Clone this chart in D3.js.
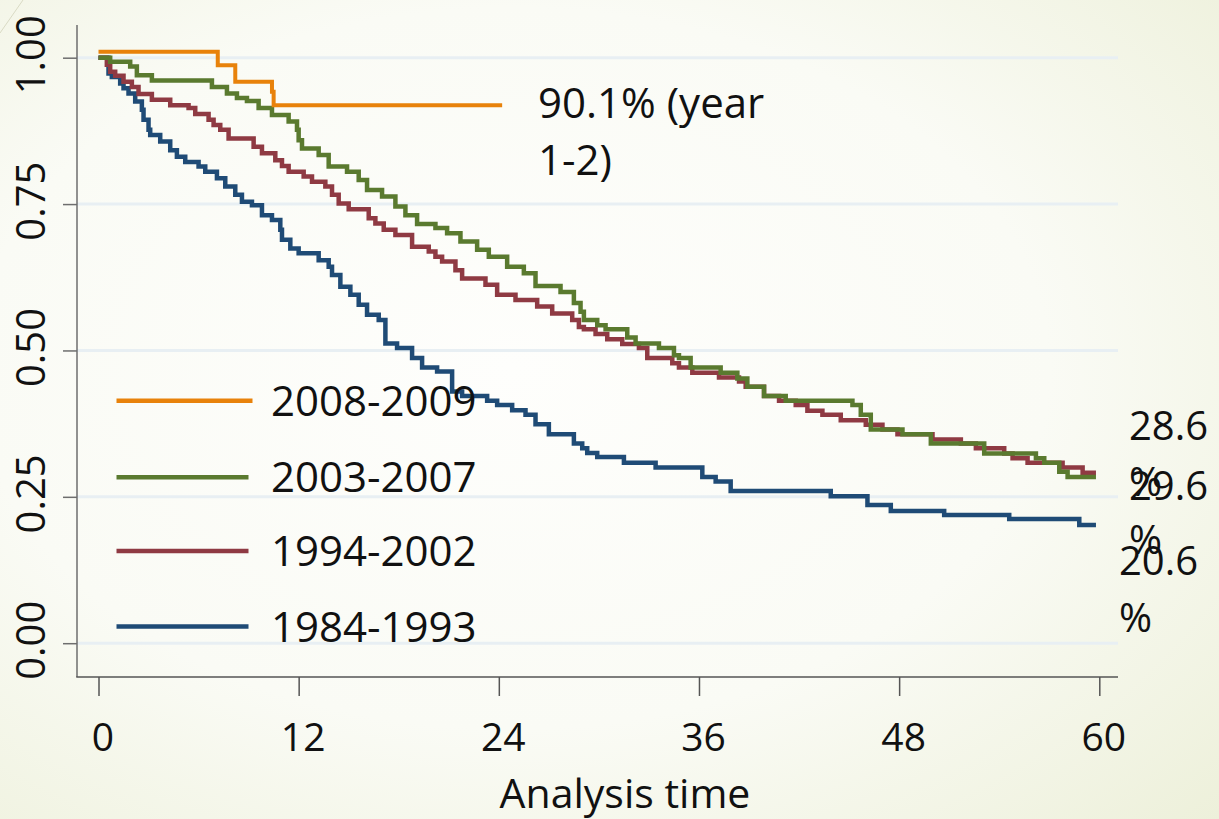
<!DOCTYPE html>
<html><head><meta charset="utf-8">
<script src="https://cdn.jsdelivr.net/npm/d3@7"></script>
<style>html,body{margin:0;padding:0;overflow:hidden;}svg{display:block;}</style>
</head><body>
<svg id="chart" width="1219" height="819"></svg>
<script>
// ---- data ----
const seriesNames = ["2008-2009", "2003-2007", "1994-2002", "1984-1993"];
const seriesColors = ["#e8820b", "#5a7a2f", "#8f3a43", "#1f4b76"];
const xTicks = [0, 12, 24, 36, 48, 60];
const yTicks = [0, 0.25, 0.5, 0.75, 1];
const yTickLabels = ["0.00", "0.25", "0.50", "0.75", "1.00"];
const steps2008 = [[0,1.01],[7.15,0.987],[8.2,0.959],[10.4,0.942],[10.5,0.919],[24.2,0.919]];
const steps2003 = [[0,1.0],[0.7,0.993],[1.9,0.985],[2.3,0.970],[3.2,0.961],[6.8,0.950],[7.7,0.939],[8.3,0.931],[8.9,0.926],[9.6,0.914],[10.4,0.902],[11.4,0.891],[11.9,0.877],[12.0,0.859],[12.2,0.845],[13.2,0.834],[13.8,0.814],[14.9,0.805],[15.6,0.791],[16.1,0.774],[17.0,0.763],[17.8,0.746],[18.4,0.731],[19.1,0.716],[20.2,0.709],[20.9,0.700],[21.7,0.686],[22.7,0.672],[23.4,0.660],[24.5,0.643],[25.5,0.632],[26.2,0.610],[27.7,0.600],[28.5,0.581],[28.9,0.566],[29.1,0.552],[29.9,0.543],[30.4,0.536],[31.7,0.522],[32.2,0.512],[33.6,0.504],[34.5,0.492],[34.8,0.487],[35.5,0.471],[37.3,0.462],[38.3,0.452],[38.9,0.438],[39.9,0.422],[41.2,0.414],[45.2,0.407],[45.7,0.390],[46.3,0.365],[48.2,0.357],[49.9,0.341],[53.1,0.324],[56.2,0.316],[56.7,0.308],[57.6,0.293],[58.1,0.284],[59.8,0.284]];
const steps1994 = [[0,1.0],[0.5,0.988],[0.7,0.976],[1.0,0.969],[1.5,0.959],[2.0,0.950],[2.4,0.938],[3.2,0.928],[4.3,0.919],[5.4,0.914],[5.8,0.904],[6.6,0.894],[6.9,0.885],[7.3,0.877],[7.8,0.862],[9.3,0.848],[9.8,0.837],[10.6,0.825],[11.0,0.815],[11.4,0.805],[12.3,0.797],[12.8,0.788],[13.6,0.780],[14.0,0.766],[14.4,0.751],[15.0,0.741],[16.2,0.726],[16.6,0.717],[17.1,0.706],[17.8,0.697],[18.8,0.677],[19.8,0.669],[20.2,0.660],[20.6,0.652],[21.4,0.637],[21.8,0.623],[23.2,0.612],[23.9,0.595],[25.0,0.586],[26.3,0.575],[27.2,0.563],[28.4,0.552],[28.8,0.540],[29.1,0.536],[29.8,0.528],[30.5,0.519],[31.4,0.511],[32.4,0.504],[32.9,0.487],[34.4,0.478],[34.8,0.471],[35.6,0.462],[37.2,0.454],[38.4,0.447],[38.8,0.438],[39.9,0.422],[40.8,0.414],[41.8,0.407],[42.5,0.397],[43.4,0.390],[44.5,0.381],[46.0,0.373],[47.0,0.365],[47.9,0.357],[50.0,0.348],[51.7,0.341],[52.6,0.333],[54.3,0.324],[54.8,0.316],[55.7,0.308],[57.8,0.300],[59.0,0.291],[59.8,0.291]];
const steps1984 = [[0,1.0],[0.6,0.973],[0.8,0.967],[1.3,0.956],[1.5,0.948],[1.8,0.939],[2.2,0.925],[2.6,0.911],[2.7,0.894],[3.0,0.877],[3.1,0.868],[3.7,0.857],[4.3,0.842],[4.7,0.831],[5.2,0.822],[6.0,0.814],[6.4,0.805],[7.1,0.794],[7.6,0.780],[8.2,0.766],[8.6,0.754],[9.2,0.748],[9.8,0.731],[10.4,0.723],[10.9,0.706],[11.0,0.689],[11.5,0.674],[12.0,0.666],[13.2,0.654],[13.8,0.643],[14.0,0.629],[14.5,0.609],[15.1,0.595],[15.6,0.578],[16.1,0.561],[16.8,0.552],[17.2,0.512],[17.9,0.504],[18.8,0.487],[19.4,0.471],[20.3,0.464],[21.2,0.430],[21.8,0.422],[23.3,0.414],[23.9,0.407],[24.8,0.398],[25.6,0.390],[26.2,0.374],[27.0,0.357],[28.5,0.341],[29.0,0.333],[29.3,0.325],[29.9,0.318],[31.5,0.308],[33.4,0.300],[36.2,0.284],[37.0,0.276],[37.9,0.260],[43.9,0.251],[46.1,0.236],[47.5,0.226],[50.7,0.219],[54.6,0.212],[58.8,0.202],[59.8,0.202]];
const allSteps = [steps2008, steps2003, steps1994, steps1984];
const annotationLines = ["90.1% (year", "1-2)"];
const endLabels = ["28.6", "29.6", "20.6"];
const xTitle = "Analysis time";

// ---- drawing ----
const FONT = "'Open Sans', 'Noto Sans', sans-serif";
const svg = d3.select("#chart");
const defs = svg.append("defs");
const grad = defs.append("radialGradient").attr("id", "bg")
  .attr("cx", "42%").attr("cy", "45%").attr("r", "80%");
grad.append("stop").attr("offset", "0%").attr("stop-color", "#fefefc");
grad.append("stop").attr("offset", "55%").attr("stop-color", "#fafbf5");
grad.append("stop").attr("offset", "100%").attr("stop-color", "#edf0da");
svg.append("rect").attr("width", 1219).attr("height", 819).attr("fill", "url(#bg)");
svg.append("line").attr("x1", 0).attr("y1", 33).attr("x2", 23).attr("y2", 0)
  .attr("stroke", "#d9dac4").attr("stroke-width", 1);

const x = d3.scaleLinear().domain([0, 60]).range([98.5, 1099.3]);
const y = d3.scaleLinear().domain([0, 1]).range([643.2, 57.7]);
const plotLeft = 77, plotRight = 1118, axisY = 677, axisTop = 25;

// gridlines
svg.append("g").selectAll("line").data(yTicks).join("line")
  .attr("x1", plotLeft).attr("x2", plotRight)
  .attr("y1", d => y(d)).attr("y2", d => y(d))
  .attr("stroke", "#e8eff3").attr("stroke-width", 3);

// y axis
const yAxis = d3.axisLeft(y).tickValues(yTicks).tickSize(14).tickFormat((d, i) => yTickLabels[i]);
const gy = svg.append("g").attr("transform", `translate(${plotLeft},0)`).call(yAxis);
gy.select(".domain").remove();
gy.selectAll(".tick line").attr("stroke", "#6e6e6e").attr("stroke-width", 1.5);
gy.selectAll(".tick text").remove();
svg.append("line").attr("x1", plotLeft).attr("x2", plotLeft).attr("y1", axisTop).attr("y2", axisY)
  .attr("stroke", "#6e6e6e").attr("stroke-width", 1.5);
svg.append("g").selectAll("text").data(yTicks).join("text")
  .attr("transform", d => `translate(45,${y(d) - 3}) rotate(-90)`)
  .attr("text-anchor", "middle")
  .attr("font-family", FONT).attr("font-size", 40).attr("fill", "#111")
  .text((d, i) => yTickLabels[i]);

// x axis
const xAxis = d3.axisBottom(x).tickValues(xTicks).tickSize(19).tickFormat(d3.format("d"));
const gx = svg.append("g").attr("transform", `translate(0,${axisY})`).call(xAxis);
gx.select(".domain").remove();
gx.selectAll(".tick line").attr("stroke", "#555").attr("stroke-width", 1.5);
gx.selectAll(".tick text").attr("font-family", FONT).attr("font-size", 39).attr("fill", "#111")
  .attr("y", 0).attr("dy", 0).attr("transform", "translate(4,74)");
svg.append("line").attr("x1", plotLeft - 0.75).attr("x2", plotRight).attr("y1", axisY).attr("y2", axisY)
  .attr("stroke", "#555").attr("stroke-width", 1.5);
svg.append("text").attr("x", 625).attr("y", 808).attr("text-anchor", "middle")
  .attr("font-family", FONT).attr("font-size", 41).attr("fill", "#111").text(xTitle);

// curves
const line = d3.line().x(d => x(d[0])).y(d => y(d[1])).curve(d3.curveStepAfter);
const drawOrder = [3, 2, 1, 0];
svg.append("g").selectAll("path").data(drawOrder).join("path")
  .attr("d", i => line(allSteps[i]))
  .attr("fill", "none").attr("stroke", i => seriesColors[i])
  .attr("stroke-width", i => i === 0 ? 4 : 4.5).attr("stroke-linejoin", "miter");

// annotation
svg.append("g").selectAll("text").data(annotationLines).join("text")
  .attr("x", 538).attr("y", (d, i) => 118 + i * 57)
  .attr("font-family", FONT).attr("font-size", 42).attr("fill", "#111").text(d => d);

// end labels (each with a "%" line below)
const endPos = [[1129, 440, 56], [1129, 500, 54], [1119, 575, 57]];
endLabels.forEach((lab, i) => {
  const [lx, ly, lh] = endPos[i];
  const t = svg.append("text").attr("font-family", FONT).attr("font-size", 40).attr("fill", "#111");
  t.append("tspan").attr("x", lx).attr("y", ly).text(lab);
  t.append("tspan").attr("x", lx).attr("y", ly + lh).text("%");
});

// legend
const legY = [400.7, 477.3, 551, 626.5];
const lg = svg.append("g");
lg.selectAll("line").data(seriesNames).join("line")
  .attr("x1", 116.5).attr("x2", (d, i) => i === 0 ? 252.5 : 248.5)
  .attr("y1", (d, i) => legY[i]).attr("y2", (d, i) => legY[i])
  .attr("stroke", (d, i) => seriesColors[i]).attr("stroke-width", 4.5);
lg.selectAll("text").data(seriesNames).join("text")
  .attr("x", 271).attr("y", (d, i) => legY[i] + 15)
  .attr("font-family", FONT).attr("font-size", 42).attr("fill", "#111").text(d => d);
</script>
</body></html>
